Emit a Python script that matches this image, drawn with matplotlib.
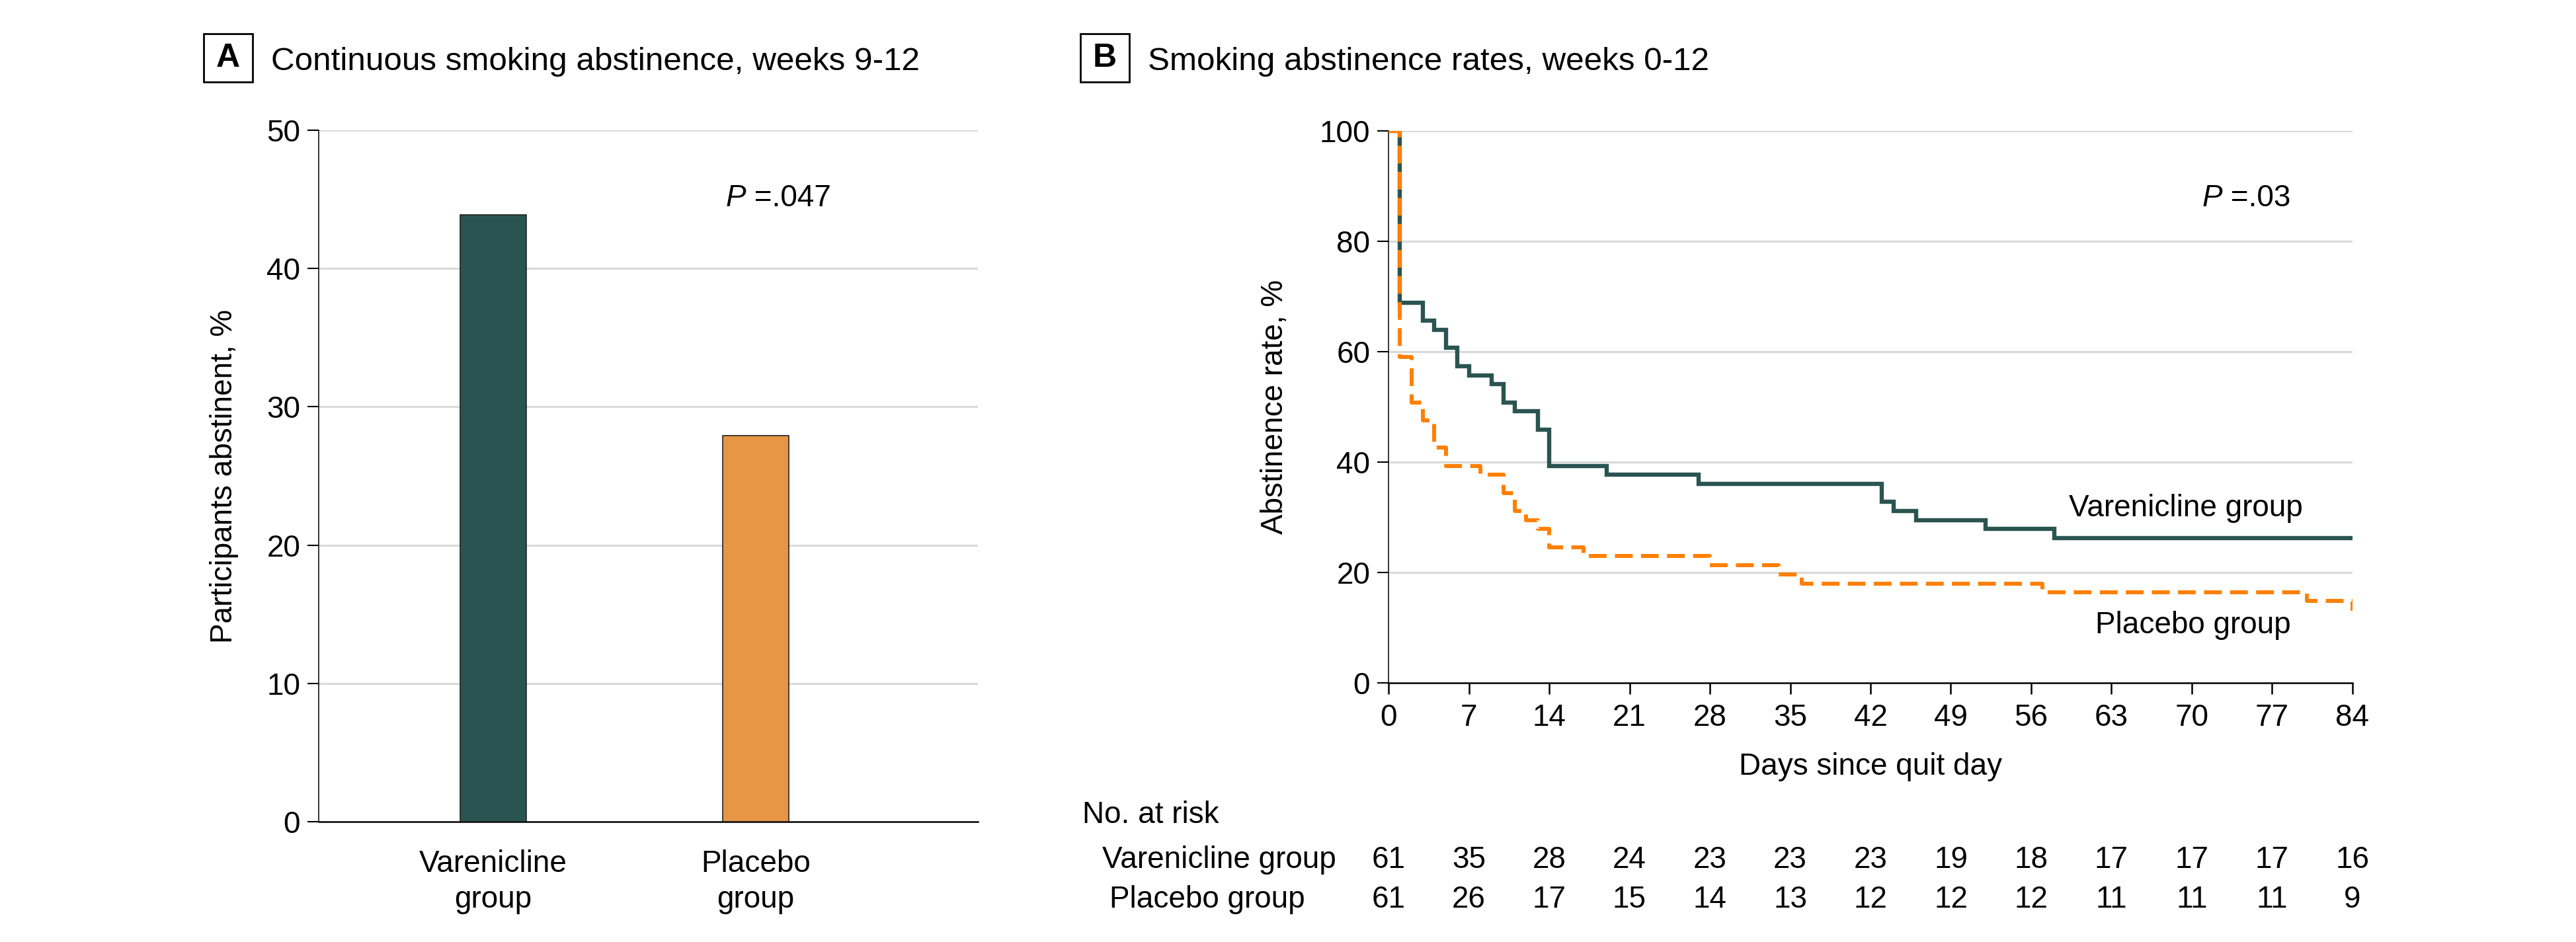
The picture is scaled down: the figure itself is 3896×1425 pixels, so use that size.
import matplotlib
matplotlib.use("Agg")
import matplotlib.pyplot as plt
from matplotlib.patches import Rectangle
from matplotlib.transforms import blended_transform_factory

plt.rcParams["font.family"] = ["Liberation Sans", "DejaVu Sans"]

TEAL = "#2A5452"
BAR_ORANGE = "#E69645"
LINE_ORANGE = "#FF8000"
GRID = "#D9D9D9"
FS = 33

# panel A
groups = ["Varenicline\ngroup", "Placebo\ngroup"]
abstinent = [43.9, 27.9]

# panel B, Kaplan-Meier steps (day, % abstinent)
days_var = [0, 1, 3, 4, 5, 6, 7, 9, 10, 11, 13, 14, 19, 27, 43, 44, 46, 52, 58, 84]
surv_var = [100, 68.9, 65.6, 63.9, 60.7, 57.4, 55.7, 54.1, 50.8, 49.2, 45.9, 39.3, 37.7, 36.1,
            32.8, 31.1, 29.5, 27.9, 26.2, 26.2]
days_pla = [0, 1, 2, 3, 4, 5, 8, 10, 11, 12, 13, 14, 17, 28, 34, 36, 57, 80, 84]
surv_pla = [100, 59.0, 50.8, 47.5, 42.6, 39.3, 37.7, 34.4, 31.1, 29.5, 27.9, 24.6, 23.0, 21.3,
            19.7, 18.0, 16.4, 14.8, 13.1]

risk_days = [0, 7, 14, 21, 28, 35, 42, 49, 56, 63, 70, 77, 84]
risk_var = [61, 35, 28, 24, 23, 23, 23, 19, 18, 17, 17, 17, 16]
risk_pla = [61, 26, 17, 15, 14, 13, 12, 12, 12, 11, 11, 11, 9]

W, H = 3896, 1425
fig = plt.figure(figsize=(W / 100, H / 100), dpi=100)


def fx(px):
    return px / W


def fy(py):
    return 1 - py / H


def panel_head(letter, x0, title):
    fig.patches.append(Rectangle((fx(x0), fy(124)), fx(74), 73 / H, transform=fig.transFigure,
                                 fill=False, ec="black", lw=2))
    fig.text(fx(x0 + 37), fy(88), letter, ha="center", va="center", fontsize=36, fontweight="bold")
    fig.text(fx(x0 + 102), fy(106), title, ha="left", va="baseline", fontsize=35.6)


def p_value(ax, x, y, val):
    t = ax.text(x, y, "P", style="italic", fontsize=FS, transform=ax.transAxes, ha="left", va="baseline")
    ax.annotate(" =" + val, xy=(1, 0), xycoords=t, ha="left", va="bottom", fontsize=FS)


# ---- panel A: bars
axA = fig.add_axes([fx(482), fy(1243), fx(997), 1046 / H])
x = [0, 1]
axA.bar(x, abstinent, width=0.25, color=[TEAL, BAR_ORANGE], edgecolor="#222222", linewidth=1.2, zorder=3)
axA.set_xlim(-0.665, 1.846)
axA.set_ylim(0, 50)
axA.set_yticks(range(0, 51, 10))
axA.set_xticks(x)
axA.set_xticklabels(groups, fontsize=FS, linespacing=1.3)
axA.tick_params(axis="x", length=0, pad=30)
axA.tick_params(axis="y", length=12, width=1.5, labelsize=FS, pad=8)
for v in range(10, 51, 10):
    axA.axhline(v, color=GRID, lw=2.2, zorder=1)
for s in ("top", "right"):
    axA.spines[s].set_visible(False)
axA.spines["left"].set_linewidth(1.1)
axA.spines["bottom"].set_linewidth(1.8)
axA.set_ylabel("Participants abstinent, %", fontsize=FS)
axA.yaxis.set_label_coords(-0.143, 0.5)
axA.yaxis.label.set_va("center")
p_value(axA, 0.617, 0.89, ".047")
panel_head("A", 308, "Continuous smoking abstinence, weeks 9-12")

# ---- panel B: abstinence curves
axB = fig.add_axes([fx(2100), fy(1033), fx(1458), 835 / H])
for v in range(20, 101, 20):
    axB.axhline(v, color=GRID, lw=2.2, zorder=1)
axB.plot(days_var, surv_var, drawstyle="steps-post", color=TEAL, lw=4.6, zorder=3,
         solid_joinstyle="miter")
axB.plot(days_pla, surv_pla, drawstyle="steps-post", color=LINE_ORANGE, lw=4.3, zorder=4,
         dashes=(4.5, 2.1))
axB.set_xlim(0, 84)
axB.set_ylim(0, 100)
axB.set_xticks(risk_days)
axB.set_yticks(range(0, 101, 20))
axB.tick_params(axis="x", length=12, width=1.8, labelsize=FS, pad=10)
axB.tick_params(axis="y", length=12, width=1.5, labelsize=FS, pad=8)
for s in ("top", "right"):
    axB.spines[s].set_visible(False)
axB.spines["left"].set_linewidth(1.1)
axB.spines["bottom"].set_linewidth(1.8)
axB.set_ylabel("Abstinence rate, %", fontsize=FS)
axB.yaxis.set_label_coords(-0.118, 0.5)
axB.yaxis.label.set_va("center")
axB.set_xlabel("Days since quit day", fontsize=FS)
axB.xaxis.set_label_coords(0.5, -0.152)
axB.xaxis.label.set_va("center")
axB.text(59.3, 30.2, "Varenicline group", fontsize=FS, ha="left", va="baseline")
axB.text(61.6, 9.0, "Placebo group", fontsize=FS, ha="left", va="baseline")
p_value(axB, 0.844, 0.863, ".03")
panel_head("B", 1634, "Smoking abstinence rates, weeks 0-12")

# ---- number at risk table
tr = blended_transform_factory(axB.transData, fig.transFigure)
fig.text(fx(1637), fy(1245), "No. at risk", fontsize=FS, ha="left", va="baseline")
fig.text(fx(1667), fy(1313), "Varenicline group", fontsize=FS, ha="left", va="baseline")
fig.text(fx(1678), fy(1373), "Placebo group", fontsize=FS, ha="left", va="baseline")
for d, nv, npl in zip(risk_days, risk_var, risk_pla):
    fig.text(d, fy(1313), str(nv), fontsize=FS, ha="center", va="baseline", transform=tr)
    fig.text(d, fy(1373), str(npl), fontsize=FS, ha="center", va="baseline", transform=tr)

fig.savefig("out.png", dpi=100, facecolor="white")
